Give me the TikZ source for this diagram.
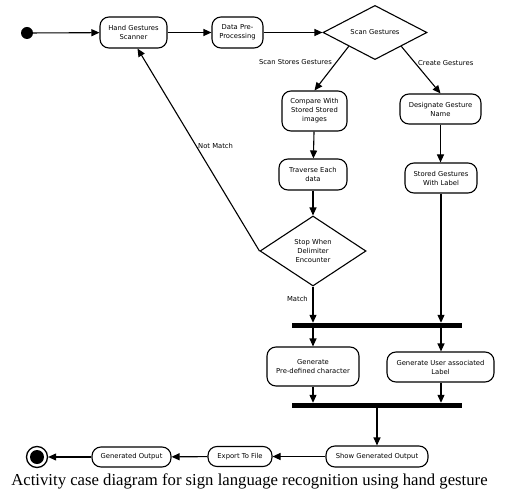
\documentclass[tikz,border=0pt]{standalone}
\usepackage{fontspec}
\setmainfont{Liberation Serif}
\newfontfamily\nodefont{DejaVu Sans}
\usetikzlibrary{shapes.geometric,arrows.meta}
\begin{document}
\begin{tikzpicture}[x=1pt,y=-1pt,
  act/.style={draw, rounded corners=9pt, line width=1.1pt, align=center,
    font=\nodefont\fontsize{6.8}{9}\selectfont, inner sep=1pt},
  dec/.style={draw, diamond, line width=1.1pt, align=center, inner sep=0pt,
    font=\nodefont\fontsize{6.8}{9}\selectfont},
  bar/.style={fill=black, inner sep=0pt, minimum height=5pt, minimum width=170pt},
  arr/.style={-{Triangle[length=8pt,width=7pt]}, line width=1.1pt},
  lbl/.style={font=\nodefont\fontsize{6.8}{8}\selectfont, inner sep=0pt}]
\useasboundingbox (0,0) rectangle (505,494);
\fill[white] (0,0) rectangle (505,494);
% start / end
\node[circle, fill=black, minimum size=12pt, inner sep=0pt] (start) at (27,33) {};
\node[circle, draw, line width=1.3pt, minimum size=21pt, inner sep=0pt] (stop) at (37,457) {};
\node[circle, fill=black, minimum size=14pt, inner sep=0pt] (stopin) at (37,457) {};
% activities
\node[act, minimum width=67pt, minimum height=31pt] (hgs) at (133.5,32.5) {Hand Gestures\\Scanner};
\node[act, minimum width=51pt, minimum height=31pt] (dpp) at (237.5,32.5) {Data Pre-\\Processing};
\node[dec, minimum width=104pt, minimum height=47pt] (scan) at (375,32.5) {Scan Gestures};
\node[act, minimum width=65pt, minimum height=40pt] (cmp) at (314.5,111) {Compare With\\Stored Stored\\images};
\node[act, minimum width=81pt, minimum height=30pt] (des) at (440.5,109) {Designate Gesture\\Name};
\node[act, minimum width=68pt, minimum height=31pt] (trav) at (313,174.5) {Traverse Each\\data};
\node[act, minimum width=72pt, minimum height=30pt] (sgl) at (441,178) {Stored Gestures\\With Label};
\node[dec, minimum width=106pt, minimum height=70pt] (del) at (313,251) {Stop When\\Delimiter\\Encounter};
\node[bar] (fork) at (377,325.5) {};
\node[act, minimum width=92pt, minimum height=39pt] (gpc) at (313,366.5) {Generate\\Pre-defined character};
\node[act, minimum width=107pt, minimum height=30pt] (gul) at (440.5,367) {Generate User associated\\Label};
\node[bar] (join) at (377,405.5) {};
\node[act, minimum width=102pt, minimum height=21pt] (show) at (377,456.5) {Show Generated Output};
\node[act, minimum width=64pt, minimum height=20pt] (exp) at (240,456.5) {Export To File};
\node[act, minimum width=79pt, minimum height=20pt] (gout) at (131.5,457) {Generated Output};
% labels
\node[lbl, anchor=east] (lssg) at (332,62) {Scan Stores Gestures};
\node[lbl, anchor=west] (lcg) at (418,63) {Create Gestures};
\node[lbl, anchor=west] (lnm) at (198,146) {Not Match};
\node[lbl, anchor=east] (lm) at (308,299) {Match};
\node[font=\fontsize{16.7}{19}\selectfont, inner sep=0pt] (cap) at (249.5,481) {Activity case diagram for sign language recognition using hand gesture};
% connectors
\draw[arr] (start) -- (hgs);
\draw[arr] (hgs) -- (dpp);
\draw[arr] (dpp) -- (scan.west);
\draw[arr] (scan.south west) -- (cmp.north);
\draw[arr] (scan.south east) -- (des.north);
\draw[arr] (cmp) -- (trav);
\draw[arr] (des) -- (des.south |- sgl.north);
\draw[arr] (trav) -- (del.north);
\draw[arr] (del.west) -- ([xshift=4pt]hgs.south);
\draw[arr] (del.south) -- (del.south |- fork.north);
\draw[arr] (sgl.south) -- (sgl.south |- fork.north);
\draw[arr] (gpc.north |- fork.south) -- (gpc.north);
\draw[arr] (sgl.south |- fork.south) -- (sgl.south |- gul.north);
\draw[arr] (gpc.south) -- (gpc.south |- join.north);
\draw[arr] (sgl.south |- gul.south) -- (sgl.south |- join.north);
\draw[arr] (join.south) -- (show.north);
\draw[arr] (show) -- (exp);
\draw[arr] (exp) -- (gout);
\draw[arr] (gout) -- (stop);
\end{tikzpicture}
\end{document}
